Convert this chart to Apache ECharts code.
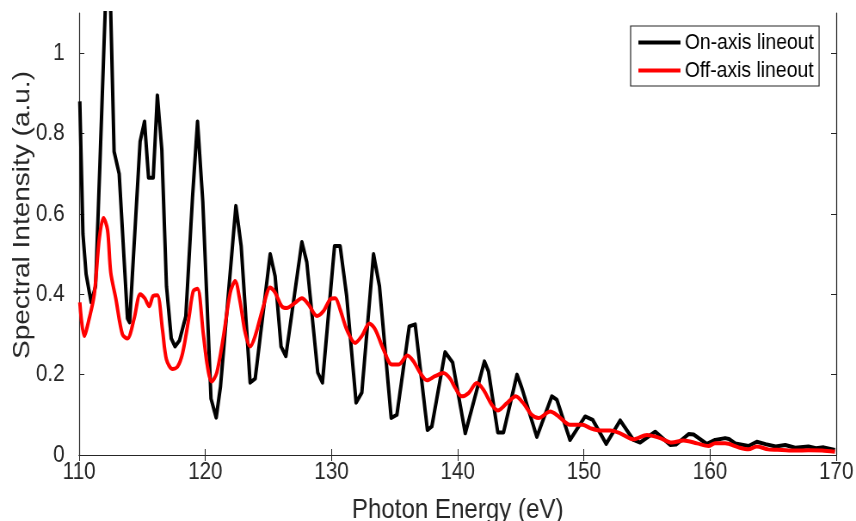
<!DOCTYPE html>
<html>
<head>
<meta charset="utf-8">
<script src="https://cdn.jsdelivr.net/npm/echarts@6/dist/echarts.min.js"></script>
<style>
  html, body { margin: 0; padding: 0; background: #ffffff; overflow: hidden; }
  #frame { width: 856px; height: 521px; overflow: hidden; position: relative; }
  /* the figure is laid out wider and narrowed horizontally, giving condensed text */
  #chart { width: 995px; height: 521px; transform: scaleX(0.8603); transform-origin: 0 0; }
</style>
</head>
<body>
<div id="frame"><div id="chart"></div></div>
<script>
// On-axis lineout: photon energy (eV) and spectral intensity (a.u.)
const onAxisEnergy = [
  110.05, 110.3, 110.55, 110.95, 111.3, 111.64, 112.32, 112.77, 113.17, 113.83,
  114.0, 114.83, 115.18, 115.5, 115.87, 116.2, 116.55, 116.92, 117.3, 117.6,
  117.95, 118.45, 118.98, 119.38, 119.8, 120.45, 120.86, 121.2, 122.42, 122.84,
  123.55, 123.95, 125.14, 125.53, 126.0, 126.38, 127.65, 128.04, 128.91, 129.28,
  130.24, 130.68, 131.2, 131.95, 132.4, 133.33, 133.8, 134.73, 135.18, 136.16,
  136.63, 137.6, 137.95, 139.0, 139.6, 140.6, 142.12, 142.44, 143.18, 143.63,
  144.7, 145.08, 146.27, 147.46, 147.86, 148.9, 150.1, 150.7, 151.77, 152.88,
  153.93, 154.46, 155.65, 156.84, 157.3, 158.3, 158.7, 159.75, 160.4, 161.2,
  161.5, 162.0, 163.05, 163.7, 164.4, 165.2, 165.96, 166.75, 167.8, 168.4,
  169.0, 169.9
];
const onAxisIntensity = [
  0.88, 0.55, 0.45, 0.38, 0.42, 0.72, 1.34, 0.755, 0.70, 0.34,
  0.33, 0.78, 0.83, 0.69, 0.69, 0.895, 0.76, 0.42, 0.29, 0.27,
  0.285, 0.345, 0.64, 0.83, 0.63, 0.14, 0.093, 0.17, 0.62, 0.52,
  0.18, 0.19, 0.50, 0.445, 0.27, 0.246, 0.53, 0.48, 0.205, 0.18,
  0.52, 0.52, 0.396, 0.13, 0.155, 0.50, 0.42, 0.092, 0.10, 0.32,
  0.325, 0.062, 0.071, 0.256, 0.23, 0.054, 0.233, 0.208, 0.056, 0.056,
  0.20, 0.167, 0.045, 0.146, 0.1375, 0.0375, 0.096, 0.0875, 0.0275, 0.086,
  0.0375, 0.031, 0.058, 0.025, 0.026, 0.052, 0.051, 0.0275, 0.0375, 0.042,
  0.04, 0.029, 0.0225, 0.033, 0.027, 0.021, 0.025, 0.018, 0.021, 0.017,
  0.019, 0.0125
];

// Off-axis lineout
const offAxisEnergy = [
  110.05, 110.4, 110.8, 111.2, 111.6, 111.93, 112.25, 112.5, 112.9, 113.43,
  113.83, 114.36, 114.84, 115.2, 115.55, 115.87, 116.2, 116.6, 116.92, 117.4,
  117.8, 118.2, 118.72, 119.04, 119.38, 119.83, 120.17, 120.5, 120.9, 121.44,
  121.97, 122.36, 122.76, 123.16, 123.55, 123.95, 124.6, 125.14, 125.53, 126.06,
  126.45, 127.12, 127.65, 128.17, 128.84, 129.36, 129.9, 130.29, 130.68, 131.2,
  131.87, 132.4, 133.0, 133.46, 134.12, 134.78, 135.3, 136.02, 136.5, 137.03,
  137.56, 138.2, 138.87, 139.4, 139.8, 140.33, 140.86, 141.5, 142.04, 142.7,
  143.18, 143.9, 144.6, 145.2, 145.87, 146.4, 147.33, 148.0, 148.9, 149.9,
  150.5, 151.3, 152.1, 152.88, 153.93, 155.0, 156.05, 156.97, 157.9, 158.96,
  159.88, 160.4, 161.2, 162.25, 163.05, 163.7, 164.6, 165.7, 166.75, 167.8,
  168.87, 169.9
];
const offAxisIntensity = [
  0.38, 0.296, 0.34, 0.40, 0.54, 0.59, 0.56, 0.455, 0.39, 0.30,
  0.29, 0.34, 0.40, 0.39, 0.37, 0.396, 0.3975, 0.3125, 0.2375, 0.214,
  0.22, 0.254, 0.346, 0.408, 0.414, 0.304, 0.22, 0.183, 0.204, 0.296,
  0.404, 0.433, 0.38, 0.304, 0.27, 0.296, 0.37, 0.417, 0.404, 0.37,
  0.366, 0.379, 0.39, 0.375, 0.346, 0.358, 0.3875, 0.39, 0.3625, 0.3125,
  0.279, 0.296, 0.3275, 0.3125, 0.2625, 0.225, 0.225, 0.2475, 0.233, 0.204,
  0.186, 0.196, 0.204, 0.19, 0.167, 0.146, 0.154, 0.179, 0.1625, 0.125,
  0.111, 0.129, 0.146, 0.129, 0.1, 0.092, 0.108, 0.096, 0.075, 0.075,
  0.067, 0.061, 0.061, 0.054, 0.039, 0.05, 0.042, 0.031, 0.036, 0.029,
  0.0225, 0.029, 0.029, 0.019, 0.014, 0.021, 0.014, 0.0125, 0.011, 0.012,
  0.011, 0.008
];

const seriesNames = ['On-axis lineout', 'Off-axis lineout'];
const xTicks = [110, 120, 130, 140, 150, 160, 170];
const yTicks = [0, 0.2, 0.4, 0.6, 0.8, 1];

const zip = (xs, ys) => xs.map((x, i) => [x, ys[i]]);

const axisColor = '#262626';
const fontFamily = '"Liberation Sans", Arial, Helvetica, sans-serif';

const xRange = { min: 110, max: 170, interval: 10 };
const yRange = { min: 0, max: 1.1 };

const tickStyle = { inside: true, length: 6, lineStyle: { color: axisColor, width: 1 } };
const lineStyleAxis = { color: axisColor, width: 1.2 };

const chart = echarts.init(document.getElementById('chart'), null, { renderer: 'canvas' });

chart.setOption({
  backgroundColor: '#ffffff',
  animation: false,
  grid: { left: 92, right: 23, top: 13, bottom: 66, containLabel: false, outerBoundsMode: 'none' },
  legend: {
    orient: 'vertical',
    left: 733,
    top: 26,
    padding: [5, 6, 4, 9],
    itemGap: 5,
    itemWidth: 49,
    itemHeight: 4,
    icon: 'rect',
    borderColor: axisColor,
    borderWidth: 1.2,
    backgroundColor: '#ffffff',
    data: seriesNames,
    textStyle: { fontFamily, fontSize: 22.5, color: '#000000' }
  },
  xAxis: [
    {
      type: 'value', ...xRange,
      name: 'Photon Energy (eV)', nameLocation: 'middle', nameGap: 41,
      nameMoveOverlap: false,
      nameTextStyle: { fontFamily, fontSize: 28, color: axisColor },
      axisLine: { lineStyle: lineStyleAxis },
      axisTick: { ...tickStyle },
      axisLabel: { fontFamily, fontSize: 24, color: axisColor, margin: 5,
        customValues: xTicks },
      splitLine: { show: false }
    },
    {
      type: 'value', position: 'top', ...xRange,
      axisLine: { lineStyle: lineStyleAxis },
      axisTick: { ...tickStyle },
      axisLabel: { show: false },
      splitLine: { show: false }
    }
  ],
  yAxis: [
    {
      type: 'value', ...yRange,
      name: 'Spectral Intensity (a.u.)', nameLocation: 'middle', nameGap: 52,
      nameMoveOverlap: false,
      nameTextStyle: { fontFamily, fontSize: 28, color: axisColor, padding: [0, 0, 0, 38] },
      axisLine: { show: true, lineStyle: lineStyleAxis },
      axisTick: { show: true, ...tickStyle, customValues: yTicks },
      axisLabel: { fontFamily, fontSize: 24, color: axisColor, margin: 17,
        customValues: yTicks },
      splitLine: { show: false }
    },
    {
      type: 'value', position: 'right', ...yRange,
      axisLine: { show: true, lineStyle: lineStyleAxis },
      axisTick: { show: true, ...tickStyle, customValues: yTicks },
      axisLabel: { show: false },
      splitLine: { show: false }
    }
  ],
  series: [
    {
      name: seriesNames[0],
      type: 'line',
      xAxisIndex: 0, yAxisIndex: 0,
      data: zip(onAxisEnergy, onAxisIntensity),
      symbol: 'none',
      clip: true,
      lineStyle: { color: '#000000', width: 4, join: 'round' },
      itemStyle: { color: '#000000' },
      z: 2
    },
    {
      name: seriesNames[1],
      type: 'line',
      xAxisIndex: 0, yAxisIndex: 0,
      data: zip(offAxisEnergy, offAxisIntensity),
      symbol: 'none',
      smooth: 0.3,
      clip: true,
      lineStyle: { color: '#ff0000', width: 4, join: 'round' },
      itemStyle: { color: '#ff0000' },
      z: 3
    }
  ]
});
</script>
</body>
</html>
